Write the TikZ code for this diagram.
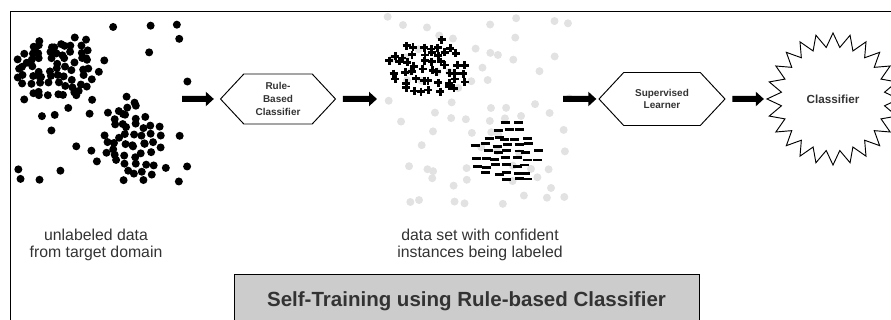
\documentclass[tikz,border=0pt]{standalone}
\usepackage{fontspec}
\setmainfont{Liberation Sans}
\usetikzlibrary{arrows.meta,shapes.symbols,shapes.geometric}
\definecolor{txtgray}{HTML}{333333}
\definecolor{boxgray}{HTML}{CCCCCC}
\definecolor{dotgray}{HTML}{E2E2E2}
\tikzset{dot/.style={fill=black}, faintdot/.style={fill=dotgray},
  sign/.style={draw=black,line width=0.085cm},
  hexbox/.style={signal, signal to=west and east, signal pointer angle=94, draw, line width=0.8pt,
    minimum width=3.45cm, minimum height=1.5cm, inner sep=0pt, align=center,
    font=\fontsize{8.5}{11}\selectfont\bfseries, text=txtgray},
  flow/.style={line width=0.18cm, -{Triangle[length=0.24cm,width=0.42cm]}},
  caption/.style={align=center, font=\fontsize{13.5}{14.5}\selectfont, text=txtgray}}

\begin{document}
\begin{tikzpicture}[x=0.03cm,y=-0.03cm]
  \useasboundingbox (0,0) rectangle (891,320);
  \clip (0,0) rectangle (891,320);
  \draw[line width=0.8pt] (10,320) -- (10,11) -- (891,11);
  \begin{scope}
   \pgfmathsetseed{11}
   \foreach \gx in {20,38,...,182}
    \foreach \gy in {22,40,...,198}{
     \pgfmathtruncatemacro\keep{rnd<0.42}
     \ifnum\keep=1 \fill[dot] ({\gx+6*rand},{\gy+6*rand}) circle (0.12cm); \fi
    }
   \foreach \gx in {-40,-32,...,40}
    \foreach \gy in {-32,-24,...,32}{
     \pgfmathtruncatemacro\keep{(\gx/41)^2+(\gy/32)^2<0.75+0.35*rnd}
     \ifnum\keep=1 \fill[dot] ({57+\gx+3*rand},{69+\gy+3*rand}) circle (0.12cm); \fi
    }
   \foreach \gx in {-36,-27,...,36}
    \foreach \gy in {-45,-36,...,45}{
     \pgfmathtruncatemacro\keep{(\gx/37)^2+(\gy/46)^2<0.45+0.6*rnd}
     \ifnum\keep=1 \fill[dot] ({135+\gx+3.5*rand},{145+\gy+3.5*rand}) circle (0.12cm); \fi
    }
  \end{scope}
  \begin{scope}
   \pgfmathsetseed{23}
   \foreach \gx in {390,406,...,566}
    \foreach \gy in {22,38,...,198}{
     \pgfmathtruncatemacro\keep{rnd<0.5}
     \ifnum\keep=1 \fill[faintdot] ({\gx+6*rand},{\gy+6*rand}) circle (0.12cm); \fi
    }
   \foreach \gx in {-40,-31.5,...,40}
    \foreach \gy in {-30,-21.5,...,30}{
     \pgfmathtruncatemacro\keep{(\gx/41)^2+(\gy/32)^2<0.75+0.35*rnd}
     \ifnum\keep=1 \draw[sign] ({428+\gx+3*rand},{68+\gy+3*rand}) +(-4,0) -- +(4,0) +(0,-4) -- +(0,4); \fi
    }
   \foreach \gx in {-30,-20,...,30}
    \foreach \gy in {-30,-23,...,30}{
     \pgfmathtruncatemacro\keep{(\gx/32)^2+(\gy/32)^2<0.7+0.4*rnd}
     \ifnum\keep=1 \draw[sign] ({507+\gx+3*rand},{154+\gy+1.5*rand}) +(-4.5,0) -- +(4.5,0); \fi
    }
  \end{scope}
  \node[hexbox] (rule) at (278,99) {Rule-\\Based\\Classifier};
  \node[hexbox, minimum width=3.78cm, minimum height=1.59cm] (learner) at (662,99) {Supervised\\Learner};
  \node[star, star points=24, star point ratio=1.27, draw, line width=0.8pt, minimum size=3.96cm,
    inner sep=0pt, font=\fontsize{10}{12}\selectfont\bfseries, text=txtgray] (clf) at (833,99) {Classifier};
  \coordinate (rawdata) at (182,99);
  \coordinate (labeled) at (377,99);
  \coordinate (labeledout) at (563,99);
  \draw[flow, shorten >=0.18cm] (rawdata) -- (rule);
  \draw[flow, shorten <=0.2cm] (rule) -- (labeled);
  \draw[flow, shorten >=0.06cm] (labeledout) -- (learner);
  \draw[flow, shorten <=0.2cm, shorten >=0.06cm] (learner) -- (clf);
  \node[caption] (rawtext) at (96,245) {unlabeled data\\from target domain};
  \node[caption] (labtext) at (480,245) {data set with confident\\instances being labeled};
  \node[draw, line width=0.8pt, fill=boxgray, minimum width=13.95cm, minimum height=1.6cm, anchor=north,
    font=\fontsize{17.5}{20}\selectfont\bfseries, text=txtgray] (title) at (466.5,274) {Self-Training using Rule-based Classifier};
\end{tikzpicture}
\end{document}
